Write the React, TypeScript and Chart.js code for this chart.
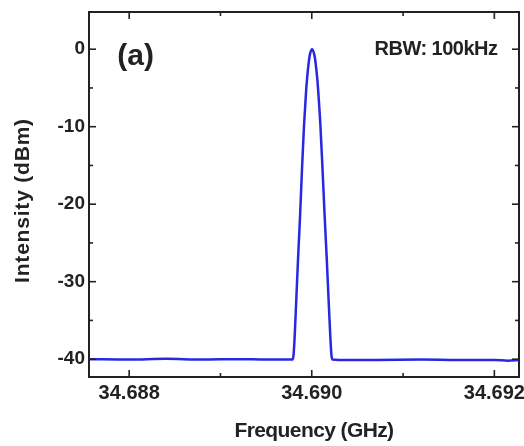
import { useEffect, useRef } from "react";
import { Chart, registerables } from "chart.js";

Chart.register(...registerables);

// ---- Data ----
const frequencyGHz = [
  34.68756, 34.6880, 34.6884, 34.6888, 34.6892, 34.6895, 34.68970,
  34.689789, 34.689800, 34.689811, 34.689828, 34.689850, 34.689872,
  34.689893, 34.689915, 34.689937, 34.689948, 34.689959, 34.689970,
  34.689981, 34.690003, 34.690026, 34.690038, 34.690049, 34.690061,
  34.690072, 34.690095, 34.690118, 34.690141, 34.690164, 34.690187,
  34.690205, 34.690216, 34.690228,
  34.6903, 34.6907, 34.6912, 34.6916, 34.6920, 34.69215, 34.69227,
];
const intensityDBm = [
  -40.0, -40.05, -39.95, -40.05, -40.0, -40.05, -40.05,
  -40.05, -39.5, -37.5, -33.0, -27.0, -21.5,
  -15.5, -9.9, -5.6, -3.9, -2.5, -1.4,
  -0.6, 0.0, -0.6, -1.4, -2.5, -3.9,
  -5.6, -9.9, -15.5, -21.5, -27.0, -33.0,
  -37.5, -39.5, -40.05,
  -40.1, -40.1, -40.05, -40.1, -40.1, -40.2, -40.1,
];

const xRange = [34.68756, 34.69227];
const yRange = [-42.3, 4.8];
const xMajorTicks = [34.688, 34.69, 34.692];
const xMinorTicks = [34.689, 34.691];
const yMajorTicks = [0, -10, -20, -30, -40];
const yMinorTicks = [-5, -15, -25, -35];
const xTitle = "Frequency (GHz)";
const yTitle = "Intensity (dBm)";
const panelLabel = "(a)";
const rbwLabel = "RBW: 100kHz";

const FONT = "'Liberation Sans', Arial, sans-serif";
const INK = "#222";
const LINE_BLUE = "rgb(40, 40, 225)";

const framePlugin = {
  id: "frameTicks",
  afterDatasetsDraw(chart: any) {
    const { ctx, chartArea: a, scales } = chart;
    const x = scales.x;
    const y = scales.y;
    ctx.save();
    ctx.strokeStyle = INK;
    ctx.lineWidth = 2;
    ctx.strokeRect(a.left, a.top, a.right - a.left, a.bottom - a.top);
    ctx.lineWidth = 1.6;
    const seg = (x1: number, y1: number, x2: number, y2: number) => {
      ctx.beginPath();
      ctx.moveTo(x1, y1);
      ctx.lineTo(x2, y2);
      ctx.stroke();
    };
    const xt = (v: number, len: number) => {
      const p = x.getPixelForValue(v);
      seg(p, a.bottom, p, a.bottom - len);
      seg(p, a.top, p, a.top + len);
    };
    const yt = (v: number, len: number) => {
      const p = y.getPixelForValue(v);
      seg(a.left, p, a.left + len, p);
      seg(a.right, p, a.right - len, p);
    };
    xMajorTicks.forEach((v) => xt(v, 7));
    xMinorTicks.forEach((v) => xt(v, 4));
    yMajorTicks.forEach((v) => yt(v, 7));
    yMinorTicks.forEach((v) => yt(v, 4));
    ctx.restore();
  },
  afterDraw(chart: any) {
    const { ctx, scales, chartArea: a } = chart;
    const x = scales.x;
    const y = scales.y;
    ctx.save();
    ctx.fillStyle = INK;
    ctx.textBaseline = "middle";
    ctx.textAlign = "center";
    ctx.font = `bold 30px ${FONT}`;
    ctx.fillText(panelLabel, x.getPixelForValue(34.68807), y.getPixelForValue(-1.0));
    ctx.textAlign = "right";
    ctx.font = `bold 20px ${FONT}`;
    (ctx as any).letterSpacing = "-0.5px";
    ctx.fillText(rbwLabel, x.getPixelForValue(34.692035), y.getPixelForValue(-0.1));

    // axis titles
    ctx.textAlign = "center";
    ctx.font = `bold 21px ${FONT}`;
    (ctx as any).letterSpacing = "-0.6px";
    ctx.fillText(xTitle, (a.left + a.right) / 2 + 10, 431);
    ctx.save();
    ctx.translate(23.5, (a.top + a.bottom) / 2 + 6);
    ctx.rotate(-Math.PI / 2);
    (ctx as any).letterSpacing = "0.8px";
    ctx.fillText(yTitle, 0, 0);
    ctx.restore();
    ctx.restore();
  },
};

export default function App() {
  const ref = useRef<HTMLCanvasElement | null>(null);
  useEffect(() => {
    document.body.style.margin = "0";
    const canvas = ref.current;
    if (!canvas) return;
    const points = frequencyGHz.map((f, i) => ({ x: f, y: intensityDBm[i] }));
    const chart = new Chart(canvas, {
      type: "line",
      data: {
        datasets: [
          {
            data: points,
            borderColor: LINE_BLUE,
            borderWidth: 2.5,
            pointRadius: 0,
            fill: false,
            cubicInterpolationMode: "monotone",
          },
        ],
      },
      options: {
        animation: false,
        responsive: false,
        devicePixelRatio: 1,
        layout: { padding: { top: 12, right: 5, left: 0, bottom: 0 } },
        plugins: { legend: { display: false }, tooltip: { enabled: false } },
        scales: {
          x: {
            type: "linear",
            min: xRange[0],
            max: xRange[1],
            grid: { display: false, drawTicks: false },
            border: { display: false },
            afterBuildTicks: (s: any) => {
              s.ticks = xMajorTicks.map((v) => ({ value: v }));
            },
            afterFit: (s: any) => {
              s.height = 69;
              s.paddingLeft = 0;
              s.paddingRight = 0;
            },
            ticks: {
              padding: 4,
              color: INK,
              maxRotation: 0,
              autoSkip: false,
              font: { family: FONT, size: 20, weight: "bold" },
              callback: (v: any) => Number(v).toFixed(3),
            },
            title: { display: false, text: xTitle },
          },
          y: {
            type: "linear",
            min: yRange[0],
            max: yRange[1],
            grid: { display: false, drawTicks: false },
            border: { display: false },
            afterBuildTicks: (s: any) => {
              s.ticks = yMajorTicks.map((v) => ({ value: v }));
            },
            afterFit: (s: any) => {
              s.width = 89;
              s.paddingTop = 0;
              s.paddingBottom = 0;
            },
            ticks: {
              padding: 4,
              color: INK,
              autoSkip: false,
              font: { family: FONT, size: 19, weight: "bold" },
              callback: (v: any) => String(v),
            },
            title: { display: false, text: yTitle },
          },
        },
      },
      plugins: [framePlugin],
    } as any);
    return () => chart.destroy();
  }, []);
  return <canvas ref={ref} width={524} height={446} style={{ display: "block" }} />;
}
